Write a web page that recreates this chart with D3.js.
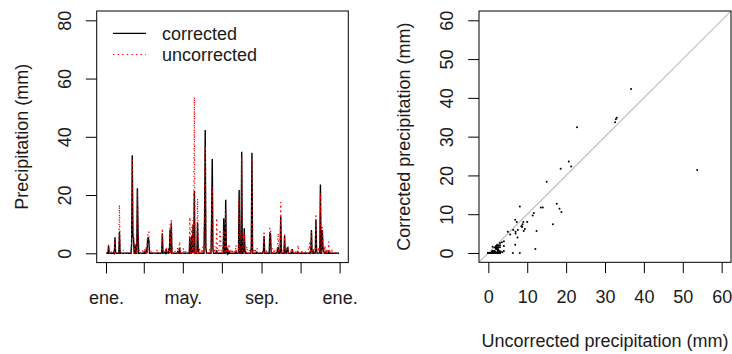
<!DOCTYPE html>
<html>
<head>
<meta charset="utf-8">
<script src="https://cdn.jsdelivr.net/npm/d3@7"></script>
<style>
  html, body { margin: 0; padding: 0; background: #fff; }
  svg { display: block; font-family: "Liberation Sans", Arial, Helvetica, sans-serif; }
</style>
</head>
<body>
<svg id="chart" width="732" height="354"></svg>
<script>
// Daily precipitation for one year; only wet days are listed, every other day is dry (0 mm).
const startDate = "2013-01-01";
const dayCount = 365;
const rainDays = [4, 5, 8, 12, 14, 21, 22, 27, 33, 40, 41, 42, 43, 45, 46, 49, 50, 51, 57, 60,
  63, 65, 66, 67, 68, 71, 75, 80, 88, 92, 94, 95, 98, 100, 102, 103, 108, 112, 115, 117,
  121, 125, 131, 134, 136, 138, 140, 143, 144, 146, 149, 151, 154, 155, 156, 159, 162, 165, 166, 167,
  170, 173, 177, 178, 179, 182, 184, 187, 188, 190, 192, 194, 197, 201, 203, 208, 212, 216, 217, 220,
  224, 227, 228, 230, 233, 235, 236, 240, 246, 247, 251, 256, 257, 260, 262, 264, 268, 269, 273, 274,
  277, 279, 283, 284, 289, 291, 296, 300, 306, 312, 316, 318, 320, 321, 324, 328, 329, 332, 335, 338,
  339, 340, 342, 344, 346, 348, 350, 353, 358];
const corrected = [2.6, 0, 0, 0.3, 5.5, 7.4, 0, 0, 0, 3.0, 33.7, 6.2, 5.0, 0, 2.8, 22.3, 7.4, 0, 0, 0.4,
  1.5, 4.8, 5.5, 4.0, 0, 0, 0, 0, 6.9, 0.3, 1.5, 0, 1.6, 8.0, 10.3, 0, 0, 0.5, 1.8, 0,
  0, 0, 5.7, 5.7, 9.7, 21.4, 0, 10.6, 1.5, 0, 0, 0, 11.4, 42.3, 2.0, 0, 0, 11.7, 32.4, 1.5,
  0, 1.0, 0, 0, 0, 0, 12.0, 18.4, 0.5, 1.7, 0.4, 0, 0, 0, 0.5, 21.7, 34.9, 8.6, 1.0, 0,
  0, 2.0, 34.5, 0, 0, 0, 0.3, 0, 0.8, 5.9, 0, 6.9, 6.7, 0, 0, 0, 1.5, 2.1, 12.7, 0.5,
  0, 5.9, 1.8, 2.0, 0, 1.4, 0, 0.4, 0, 0, 0, 0.2, 1.0, 8.0, 0.5, 11.7, 1.0, 0, 23.6, 8.0,
  2.0, 1.0, 0, 0.5, 0, 0.5, 0, 0, 0];
const uncorrected = [3.0, 1.0, 0.8, 0.9, 5.0, 16.6, 1.5, 1.2, 0.6, 4.0, 32.6, 9.4, 7.0, 2.0, 3.5, 21.3, 8.8, 3.0, 1.0, 1.6,
  2.5, 5.6, 7.0, 7.5, 2.0, 0.7, 0.8, 1.4, 8.5, 1.1, 2.0, 1.2, 1.1, 10.0, 11.7, 2.5, 0.9, 2.4, 4.0, 1.2,
  1.8, 1.0, 12.4, 9.1, 11.4, 53.7, 1.5, 18.8, 3.0, 2.0, 1.3, 2.2, 18.3, 36.7, 3.0, 0.8, 1.6, 14.0, 22.8, 2.0,
  2.5, 12.1, 3.0, 8.1, 6.3, 1.9, 8.1, 15.0, 1.0, 2.2, 3.2, 0.7, 1.4, 1.1, 2.8, 18.6, 33.0, 6.9, 2.0, 2.4,
  1.2, 2.2, 32.8, 1.5, 1.7, 1.0, 1.9, 0.6, 2.5, 7.6, 1.3, 8.6, 8.7, 1.8, 1.0, 0.9, 2.5, 6.9, 17.6, 1.5,
  1.1, 6.4, 2.0, 2.3, 0.7, 1.6, 1.0, 2.8, 1.2, 0.8, 1.4, 3.6, 2.2, 7.3, 1.5, 13.5, 2.0, 2.1, 20.7, 9.0,
  2.7, 2.5, 2.7, 1.5, 1.0, 4.0, 0.5, 0.8, 0.6];

const monthTicks = ["2013-01-01", "2013-03-01", "2013-05-01", "2013-07-01", "2013-09-01", "2013-11-01", "2014-01-01"];
const monthLabels = ["ene.", "", "may.", "", "sep.", "", "ene."];
const precipTicks = [0, 20, 40, 60, 80];
const scatterTicks = [0, 10, 20, 30, 40, 50, 60];
const seriesNames = ["corrected", "uncorrected"];

const parseDate = d3.utcParse("%Y-%m-%d");
const start = parseDate(startDate);

// Build the full daily series
const wet = new Map(rainDays.map((d, i) => [d, i]));
const daily = d3.range(dayCount).map(d => {
  const i = wet.get(d);
  return {
    date: d3.utcDay.offset(start, d),
    corr: i === undefined ? 0 : corrected[i],
    unc: i === undefined ? 0 : uncorrected[i]
  };
});

const svg = d3.select("#chart");
const FONT = 18;
const INK = "#1a1a1a";

// R-style 4% range extension
function padded(lo, hi) { const e = (hi - lo) * 0.04; return [lo - e, hi + e]; }

// ---------- Left panel: time series ----------
const L = { left: 96.7, right: 348.3, top: 11, bottom: 262.6 };
const first = daily[0].date, last = daily[daily.length - 1].date;
const tExt = (last - first) * 0.04;
const xT = d3.scaleUtc()
  .domain([new Date(+first - tExt), new Date(+last + tExt)])
  .range([L.left, L.right]);
const yT = d3.scaleLinear().domain(padded(0, 80)).range([L.bottom, L.top]);

const left = svg.append("g");

const lineCorr = d3.line().x(d => xT(d.date)).y(d => yT(d.corr));
const lineUnc = d3.line().x(d => xT(d.date)).y(d => yT(d.unc));

left.append("path").datum(daily)
  .attr("d", lineCorr)
  .attr("fill", "none").attr("stroke", "#000").attr("stroke-width", 1.4);
left.append("path").datum(daily)
  .attr("d", lineUnc)
  .attr("fill", "none").attr("stroke", "#ff0000").attr("stroke-width", 1.2)
  .attr("stroke-dasharray", "1.4 3.2");

left.append("rect")
  .attr("x", L.left).attr("y", L.top)
  .attr("width", L.right - L.left).attr("height", L.bottom - L.top)
  .attr("fill", "none").attr("stroke", "#000").attr("stroke-width", 1);

// x axis (dates)
const xAxisL = left.append("g")
  .attr("transform", `translate(0,${L.bottom})`)
  .call(d3.axisBottom(xT)
    .tickValues(monthTicks.map(parseDate))
    .tickSize(10.8)
    .tickFormat((d, i) => monthLabels[i]));
styleAxis(xAxisL);
xAxisL.selectAll("text").attr("y", 41).attr("dy", 0);

// y axis
const yAxisL = left.append("g")
  .attr("transform", `translate(${L.left},0)`)
  .call(d3.axisLeft(yT).tickValues(precipTicks).tickSize(10.8).tickFormat(d3.format("d")));
styleAxis(yAxisL);
rotateYLabels(yAxisL);

left.append("text")
  .attr("transform", `translate(28,${(L.top + L.bottom) / 2}) rotate(-90)`)
  .attr("text-anchor", "middle").attr("font-size", FONT).attr("fill", INK)
  .text("Precipitation (mm)");

// legend
const legend = left.append("g");
const legendStyles = [
  { stroke: "#000", dash: null, width: 1.2 },
  { stroke: "#ff0000", dash: "1.4 3.2", width: 1.2 }
];
seriesNames.forEach((name, i) => {
  const yy = 33.3 + i * 21.2;
  legend.append("line")
    .attr("x1", 113).attr("x2", 146).attr("y1", yy).attr("y2", yy)
    .attr("stroke", legendStyles[i].stroke).attr("stroke-width", legendStyles[i].width)
    .attr("stroke-dasharray", legendStyles[i].dash);
  legend.append("text")
    .attr("x", 162).attr("y", yy + 6.6)
    .attr("font-size", FONT).attr("fill", INK)
    .text(name);
});

// ---------- Right panel: scatter ----------
const R = { left: 479, right: 731, top: 11, bottom: 262.3 };
const xS = d3.scaleLinear().domain(padded(0, 60)).range([R.left, R.right]);
const yS = d3.scaleLinear().domain(padded(0, 60)).range([R.bottom, R.top]);

const right = svg.append("g");

right.append("clipPath").attr("id", "scatterClip")
  .append("rect")
  .attr("x", R.left).attr("y", R.top)
  .attr("width", R.right - R.left).attr("height", R.bottom - R.top);

// 1:1 reference line
const dom = xS.domain();
right.append("line")
  .attr("clip-path", "url(#scatterClip)")
  .attr("x1", xS(dom[0])).attr("y1", yS(dom[0]))
  .attr("x2", xS(dom[1])).attr("y2", yS(dom[1]))
  .attr("stroke", "#bebebe").attr("stroke-width", 1.1);

right.append("g").selectAll("circle")
  .data(daily)
  .join("circle")
  .attr("cx", d => xS(d.unc))
  .attr("cy", d => yS(d.corr))
  .attr("r", 1)
  .attr("fill", "#000");

right.append("rect")
  .attr("x", R.left).attr("y", R.top)
  .attr("width", R.right - R.left).attr("height", R.bottom - R.top)
  .attr("fill", "none").attr("stroke", "#000").attr("stroke-width", 1);

const xAxisR = right.append("g")
  .attr("transform", `translate(0,${R.bottom})`)
  .call(d3.axisBottom(xS).tickValues(scatterTicks).tickSize(10.8).tickFormat(d3.format("d")));
styleAxis(xAxisR);
xAxisR.selectAll("text").attr("y", 41).attr("dy", 0);

const yAxisR = right.append("g")
  .attr("transform", `translate(${R.left},0)`)
  .call(d3.axisLeft(yS).tickValues(scatterTicks).tickSize(10.8).tickFormat(d3.format("d")));
styleAxis(yAxisR);
rotateYLabels(yAxisR);

right.append("text")
  .attr("x", (R.left + R.right) / 2).attr("y", 346.5)
  .attr("text-anchor", "middle").attr("font-size", FONT).attr("fill", INK)
  .text("Uncorrected precipitation (mm)");

right.append("text")
  .attr("transform", `translate(410,${(R.top + R.bottom) / 2}) rotate(-90)`)
  .attr("text-anchor", "middle").attr("font-size", FONT).attr("fill", INK)
  .text("Corrected precipitation (mm)");

function styleAxis(g) {
  g.select(".domain").remove();
  g.selectAll(".tick line").attr("stroke", "#000");
  g.selectAll("text")
    .attr("font-size", FONT)
    .attr("font-family", "\"Liberation Sans\", Arial, Helvetica, sans-serif")
    .attr("fill", INK);
}

function rotateYLabels(g) {
  g.selectAll(".tick text")
    .attr("transform", "rotate(-90)")
    .attr("x", 0).attr("y", -25.7).attr("dy", 0)
    .attr("text-anchor", "middle");
}
</script>
</body>
</html>
